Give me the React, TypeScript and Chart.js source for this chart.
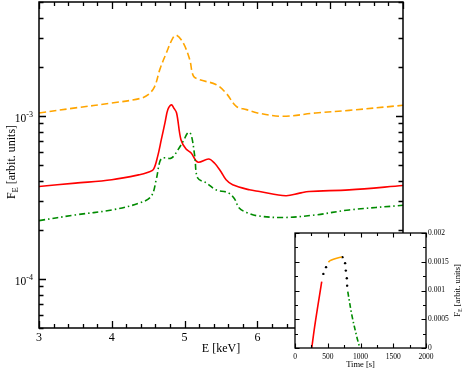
import React, { useEffect, useRef } from "react";
import { Chart, registerables } from "chart.js";

Chart.register(...registerables);

// ---------- Main spectrum data ----------
const energyOrange = [3.0, 3.5, 4.0, 4.38, 4.5, 4.59, 4.66, 4.75, 4.84, 4.89, 4.98, 5.07, 5.12, 5.2, 5.43, 5.57, 5.71, 5.85, 6.0, 6.35, 6.8, 7.26, 8.0];
const fluxOrange = [1.043e-3, 1.12e-3, 1.2e-3, 1.277e-3, 1.35e-3, 1.52e-3, 1.93e-3, 2.44e-3, 3.01e-3, 3.13e-3, 2.81e-3, 2.22e-3, 1.76e-3, 1.67e-3, 1.56e-3, 1.38e-3, 1.145e-3, 1.093e-3, 1.043e-3, 0.995e-3, 1.043e-3, 1.082e-3, 1.162e-3];

const energyRed = [3.0, 3.5, 4.0, 4.38, 4.5, 4.57, 4.63, 4.68, 4.73, 4.77, 4.82, 4.85, 4.89, 4.95, 5.02, 5.09, 5.18, 5.33, 5.41, 5.5, 5.57, 5.66, 5.89, 6.03, 6.39, 6.58, 6.71, 7.26, 8.0];
const fluxRed = [3.69e-4, 3.87e-4, 4.06e-4, 4.36e-4, 4.52e-4, 4.68e-4, 5.65e-4, 7.15e-4, 9.06e-4, 1.094e-3, 1.172e-3, 1.12e-3, 1.043e-3, 7.15e-4, 6.26e-4, 5.93e-4, 5.21e-4, 5.44e-4, 5.14e-4, 4.55e-4, 4.06e-4, 3.78e-4, 3.52e-4, 3.44e-4, 3.24e-4, 3.36e-4, 3.44e-4, 3.52e-4, 3.74e-4];

const energyGreen = [3.0, 3.5, 4.0, 4.38, 4.54, 4.61, 4.66, 4.7, 4.82, 4.91, 4.98, 5.05, 5.09, 5.14, 5.18, 5.3, 5.43, 5.59, 5.68, 5.75, 5.85, 6.0, 6.35, 6.8, 7.26, 8.0];
const fluxGreen = [2.28e-4, 2.47e-4, 2.65e-4, 2.92e-4, 3.21e-4, 4.06e-4, 5.26e-4, 5.52e-4, 5.52e-4, 6.21e-4, 6.98e-4, 7.93e-4, 7.67e-4, 5.65e-4, 4.16e-4, 3.88e-4, 3.52e-4, 3.39e-4, 3.13e-4, 2.72e-4, 2.56e-4, 2.44e-4, 2.38e-4, 2.47e-4, 2.65e-4, 2.83e-4];

const energyTicks = [3, 4, 5, 6, 7, 8];
const fluxDecades = [-5, -4, -3];

// ---------- Inset light-curve data ----------
const timeRed = [256, 300, 350, 408];
const lcRed = [0, 0.00037, 0.00074, 0.001154];
const timeOrange = [510, 536, 587, 663, 714];
const lcOrange = [0.001493, 0.00152, 0.001545, 0.00157, 0.00158];
const timeGreen = [806, 868, 944, 983];
const lcGreen = [0.000979, 0.000572, 0.000192, 0.00003];
const timeDots = [433, 474, 724, 765, 776, 791, 796];
const lcDots = [0.001289, 0.001406, 0.00158, 0.001476, 0.001346, 0.001213, 0.001084];

const timeTicks = [0, 500, 1000, 1500, 2000];
const lcTicks = [0, 0.0005, 0.001, 0.0015, 0.002];
const lcTickLabels = ["0", "0.0005", "0.001", "0.0015", "0.002"];

const ORANGE = "rgb(255,165,0)";
const RED = "rgb(255,0,0)";
const GREEN = "rgb(0,139,0)";
const SERIF = '"Liberation Serif", "Times New Roman", serif';

const pts = (xs: number[], ys: number[]) => xs.map((x, i) => ({ x, y: ys[i] }));

function drawSubText(ctx: CanvasRenderingContext2D, size: number, subSize: number, subShift: number) {
  const parts = [
    { t: "F", s: size, dy: 0 },
    { t: "E", s: subSize, dy: subShift },
    { t: " [arbit. units]", s: size, dy: 0 },
  ];
  let total = 0;
  const widths = parts.map((p) => {
    ctx.font = `${p.s}px ${SERIF}`;
    const w = ctx.measureText(p.t).width;
    total += w;
    return w;
  });
  let x = -total / 2;
  ctx.textAlign = "left";
  ctx.textBaseline = "alphabetic";
  parts.forEach((p, i) => {
    ctx.font = `${p.s}px ${SERIF}`;
    ctx.fillText(p.t, x, p.dy);
    x += widths[i];
  });
}

const mainAxesPlugin = {
  id: "mainAxes",
  afterDraw(chart: any) {
    const { ctx, chartArea: a, scales } = chart;
    const x = scales.x;
    const y = scales.y;
    ctx.save();
    ctx.strokeStyle = "#000";
    ctx.fillStyle = "#000";
    ctx.lineWidth = 1.5;
    ctx.strokeRect(a.left, a.top, a.right - a.left, a.bottom - a.top);
    ctx.lineWidth = 1.3;
    for (let i = 0; i <= 25; i++) {
      const v = 3 + i * 0.2;
      const px = Math.round(x.getPixelForValue(v)) + 0.5;
      const len = i % 5 === 0 ? 7 : 4;
      ctx.beginPath();
      ctx.moveTo(px, a.bottom);
      ctx.lineTo(px, a.bottom - len);
      ctx.moveTo(px, a.top);
      ctx.lineTo(px, a.top + len);
      ctx.stroke();
    }
    fluxDecades.forEach((d) => {
      for (let m = 1; m <= 9; m++) {
        const v = m * Math.pow(10, d);
        if (v < y.min * 0.999 || v > y.max * 1.001) continue;
        const py = Math.round(y.getPixelForValue(v)) + 0.5;
        const len = m === 1 ? 7 : 4.5;
        ctx.beginPath();
        ctx.moveTo(a.left, py);
        ctx.lineTo(a.left + len, py);
        ctx.moveTo(a.right, py);
        ctx.lineTo(a.right - len, py);
        ctx.stroke();
      }
    });
    ctx.font = `12px ${SERIF}`;
    ctx.textAlign = "center";
    ctx.textBaseline = "alphabetic";
    energyTicks.forEach((v) => {
      ctx.fillText(String(v), x.getPixelForValue(v), a.bottom + 13);
    });
    fluxDecades.forEach((d) => {
      const v = Math.pow(10, d);
      if (v < y.min || v > y.max) return;
      const py = y.getPixelForValue(v);
      const right = a.left - 6;
      ctx.font = `8px ${SERIF}`;
      ctx.textAlign = "right";
      const sup = String(d);
      const sw = ctx.measureText(sup).width;
      ctx.fillText(sup, right, py + 1);
      ctx.font = `11.5px ${SERIF}`;
      ctx.fillText("10", right - sw, py + 6);
    });
    ctx.font = `12px ${SERIF}`;
    ctx.textAlign = "center";
    ctx.fillText("E [keV]", (a.left + a.right) / 2, a.bottom + 24);
    ctx.save();
    ctx.translate(15, 162);
    ctx.rotate(-Math.PI / 2);
    drawSubText(ctx, 12, 8.5, 3);
    ctx.restore();
    ctx.restore();
  },
};

const insetPlugin = {
  id: "insetAxes",
  beforeDraw(chart: any) {
    const { ctx, chartArea: a } = chart;
    ctx.save();
    ctx.fillStyle = "#fff";
    ctx.fillRect(a.left, a.top, a.right - a.left, a.bottom - a.top);
    ctx.restore();
  },
  afterDraw(chart: any) {
    const { ctx, chartArea: a, scales } = chart;
    const x = scales.x;
    const y = scales.y;
    ctx.save();
    ctx.strokeStyle = "#000";
    ctx.fillStyle = "#000";
    ctx.lineWidth = 1.3;
    ctx.strokeRect(a.left, a.top, a.right - a.left, a.bottom - a.top);
    ctx.lineWidth = 1.1;
    for (let i = 0; i <= 8; i++) {
      const v = i * 250;
      const px = Math.round(x.getPixelForValue(v)) + 0.5;
      const len = i % 2 === 0 ? 4.5 : 3;
      ctx.beginPath();
      ctx.moveTo(px, a.bottom);
      ctx.lineTo(px, a.bottom - len);
      ctx.moveTo(px, a.top);
      ctx.lineTo(px, a.top + len);
      ctx.stroke();
    }
    for (let i = 0; i <= 8; i++) {
      const v = i * 0.00025;
      const py = Math.round(y.getPixelForValue(v)) + 0.5;
      const len = i % 2 === 0 ? 4.5 : 3;
      ctx.beginPath();
      ctx.moveTo(a.left, py);
      ctx.lineTo(a.left + len, py);
      ctx.moveTo(a.right, py);
      ctx.lineTo(a.right - len, py);
      ctx.stroke();
    }
    ctx.font = `7.5px ${SERIF}`;
    ctx.textAlign = "center";
    ctx.textBaseline = "alphabetic";
    timeTicks.forEach((v) => ctx.fillText(String(v), x.getPixelForValue(v), a.bottom + 10.5));
    ctx.textAlign = "left";
    ctx.textBaseline = "middle";
    lcTicks.forEach((v, i) => ctx.fillText(lcTickLabels[i], a.right + 2, y.getPixelForValue(v)));
    ctx.font = `8.5px ${SERIF}`;
    ctx.textAlign = "center";
    ctx.textBaseline = "alphabetic";
    ctx.fillText("Time [s]", (a.left + a.right) / 2, a.bottom + 19);
    ctx.save();
    ctx.translate(460, (a.top + a.bottom) / 2);
    ctx.rotate(-Math.PI / 2);
    drawSubText(ctx, 8.5, 6, 2);
    ctx.restore();
    ctx.restore();
  },
};

export default function App() {
  const mainRef = useRef<HTMLCanvasElement>(null);
  const insetRef = useRef<HTMLCanvasElement>(null);

  useEffect(() => {
    const line = (data: any, color: string, dash: number[]) => ({
      data,
      borderColor: color,
      borderWidth: 1.6,
      borderDash: dash,
      pointRadius: 0,
      fill: false,
      tension: 0.35,
    });
    const main = new Chart(mainRef.current as HTMLCanvasElement, {
      type: "line",
      data: {
        datasets: [
          line(pts(energyOrange, fluxOrange), ORANGE, [7, 3.5]),
          line(pts(energyGreen, fluxGreen), GREEN, [6, 3, 1.5, 3]),
          line(pts(energyRed, fluxRed), RED, []),
        ] as any,
      },
      options: {
        animation: false,
        responsive: false,
        devicePixelRatio: 1,
        layout: { padding: { left: 39, right: 60, top: 2, bottom: 42 } },
        scales: {
          x: { type: "linear", min: 3, max: 8, display: false },
          y: { type: "logarithmic", min: 5e-5, max: 5e-3, display: false },
        },
        plugins: { legend: { display: false }, tooltip: { enabled: false } },
      },
      plugins: [mainAxesPlugin],
    } as any);

    const inset = new Chart(insetRef.current as HTMLCanvasElement, {
      type: "line",
      data: {
        datasets: [
          line(pts(timeRed, lcRed), RED, []),
          line(pts(timeOrange, lcOrange), ORANGE, []),
          line(pts(timeGreen, lcGreen), GREEN, [5, 2.5, 1.5, 2.5]),
          {
            data: pts(timeDots, lcDots),
            showLine: false,
            pointRadius: 1.2,
            pointBorderWidth: 0,
            pointBackgroundColor: "#000",
            borderColor: "#000",
          },
        ] as any,
      },
      options: {
        animation: false,
        responsive: false,
        devicePixelRatio: 1,
        layout: { padding: { left: 295, right: 37, top: 233, bottom: 22 } },
        scales: {
          x: { type: "linear", min: 0, max: 2000, display: false },
          y: { type: "linear", min: 0, max: 0.002, display: false },
        },
        plugins: { legend: { display: false }, tooltip: { enabled: false } },
      },
      plugins: [insetPlugin],
    } as any);

    return () => {
      main.destroy();
      inset.destroy();
    };
  }, []);

  return (
    <div style={{ position: "fixed", left: 0, top: 0, width: 463, height: 370, background: "#fff" }}>
      <canvas ref={mainRef} width={463} height={370} style={{ position: "absolute", left: 0, top: 0 }} />
      <canvas ref={insetRef} width={463} height={370} style={{ position: "absolute", left: 0, top: 0 }} />
    </div>
  );
}
